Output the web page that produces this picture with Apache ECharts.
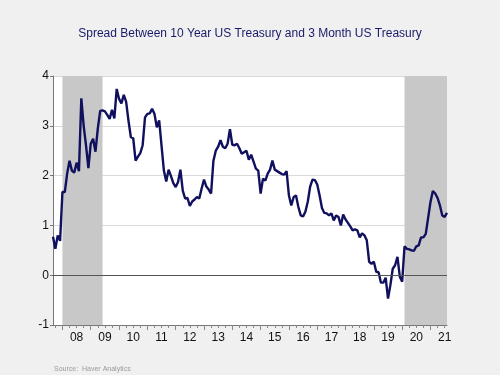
<!DOCTYPE html>
<html>
<head>
<meta charset="utf-8">
<script src="https://cdn.jsdelivr.net/npm/echarts@6/dist/echarts.min.js"></script>
<style>
html,body{margin:0;padding:0;background:#f0f0f0;}
#c{width:500px;height:375px;}
</style>
</head>
<body>
<div id="c"></div>
<script>
// Monthly spread (10Y minus 3M), Sep 2007 .. Aug 2021
const startYear = 2007;
const startMonth = 9;
const spread = [
 0.77,0.53,0.80,0.69,1.67,1.67,2.04,2.30,2.10,2.06,2.26,2.09,
 3.55,3.00,2.60,2.15,2.64,2.74,2.48,2.95,3.30,3.31,3.29,3.22,
 3.14,3.32,3.15,3.74,3.54,3.45,3.62,3.48,3.10,2.77,2.75,2.30,
 2.38,2.45,2.61,3.17,3.24,3.25,3.34,3.24,2.97,3.11,2.60,2.10,
 1.88,2.12,1.99,1.85,1.77,1.87,2.12,1.70,1.54,1.55,1.39,1.48,
 1.52,1.57,1.54,1.74,1.92,1.78,1.72,1.64,2.30,2.50,2.58,2.71,
 2.58,2.55,2.64,2.93,2.62,2.61,2.64,2.55,2.44,2.47,2.50,2.32,
 2.42,2.28,2.14,2.10,1.64,1.94,1.90,2.04,2.12,2.30,2.12,2.09,
 2.06,2.03,2.02,2.09,1.60,1.40,1.57,1.60,1.37,1.20,1.18,1.28,
 1.48,1.78,1.92,1.91,1.82,1.60,1.35,1.25,1.24,1.20,1.24,1.10,
 1.20,1.17,1.00,1.22,1.12,1.05,0.98,0.90,0.92,0.90,0.76,0.84,
 0.80,0.70,0.27,0.23,0.27,0.07,0.06,-0.15,-0.15,-0.05,-0.47,-0.20,
 0.13,0.20,0.37,-0.03,-0.13,0.58,0.53,0.52,0.50,0.49,0.58,0.60,
 0.76,0.76,0.83,1.15,1.47,1.69,1.64,1.55,1.40,1.20,1.17,1.25
];
const recessions = [['2008-01','2009-06'],['2020-02','2021-08']];
const yTicks = {min:-1, max:4, interval:1};

const months = [];
for (let i = 0; i < spread.length; i++) {
  const k = startMonth - 1 + i;
  const y = startYear + Math.floor(k / 12);
  const m = (k % 12) + 1;
  months.push(y + '-' + (m < 10 ? '0' + m : '' + m));
}

const font = 'Liberation Sans, Arial, sans-serif';
const chart = echarts.init(document.getElementById('c'), null, {renderer:'canvas'});
chart.setOption({
  backgroundColor:'#f0f0f0',
  animation:false,
  title:{
    text:'Spread Between 10 Year US Treasury and 3 Month US Treasury',
    left:'center', top:23,
    textStyle:{fontFamily:font, fontSize:12, fontWeight:'normal', color:'#1a1a6a'}
  },
  graphic:[{
    type:'text', left:54, top:366,
    style:{text:'Source:  Haver Analytics', fontFamily:font, fontSize:7, fill:'#9a9a9a'}
  }],
  grid:{left:53, right:53, top:76, bottom:50, show:true, backgroundColor:'#ffffff', borderWidth:0},
  xAxis:[{
    type:'category', data:months, boundaryGap:false, position:'bottom',
    axisLine:{show:true, onZero:false, lineStyle:{color:'#777', width:1}},
    axisTick:{show:true, length:3, interval:function(i,v){const m=v.slice(5); return m==='01'||m==='04'||m==='07'||m==='10';}, lineStyle:{color:'#888'}},
    axisLabel:{show:false},
    splitLine:{show:false}
  },{
    type:'category', data:months, boundaryGap:false, position:'bottom',
    axisLine:{show:false, onZero:false},
    axisTick:{show:true, length:5, interval:function(i,v){return v.slice(5)==='01';}, lineStyle:{color:'#888'}},
    axisLabel:{show:true, interval:function(i,v){return v.slice(5)==='07';}, formatter:function(v){return v.slice(2,4);}, fontFamily:font, fontSize:12, color:'#111', margin:7},
    splitLine:{show:false}
  }],
  yAxis:{
    type:'value', min:yTicks.min, max:yTicks.max, interval:yTicks.interval,
    axisLine:{show:true, lineStyle:{color:'#777'}},
    axisTick:{show:true, length:3, lineStyle:{color:'#777'}},
    axisLabel:{fontFamily:font, fontSize:12, color:'#111', margin:4},
    splitLine:{show:true, lineStyle:{color:'#d9d9d9', width:1}}
  },
  series:[{
    type:'line', data:[], z:1, silent:true,
    markArea:{silent:true, itemStyle:{color:'#c8c8c8'},
      data:recessions.map(r=>[{xAxis:r[0]},{xAxis:r[1]}])}
  },{
    type:'line', data:[], z:2, silent:true,
    markLine:{silent:true, symbol:'none', label:{show:false},
      lineStyle:{color:'#555', width:1, type:'solid'}, data:[{yAxis:0}]}
  },{
    type:'line', data:spread, z:3, showSymbol:false, symbol:'none',
    lineStyle:{color:'#10105e', width:2.4}
  }]
});
</script>
</body>
</html>
